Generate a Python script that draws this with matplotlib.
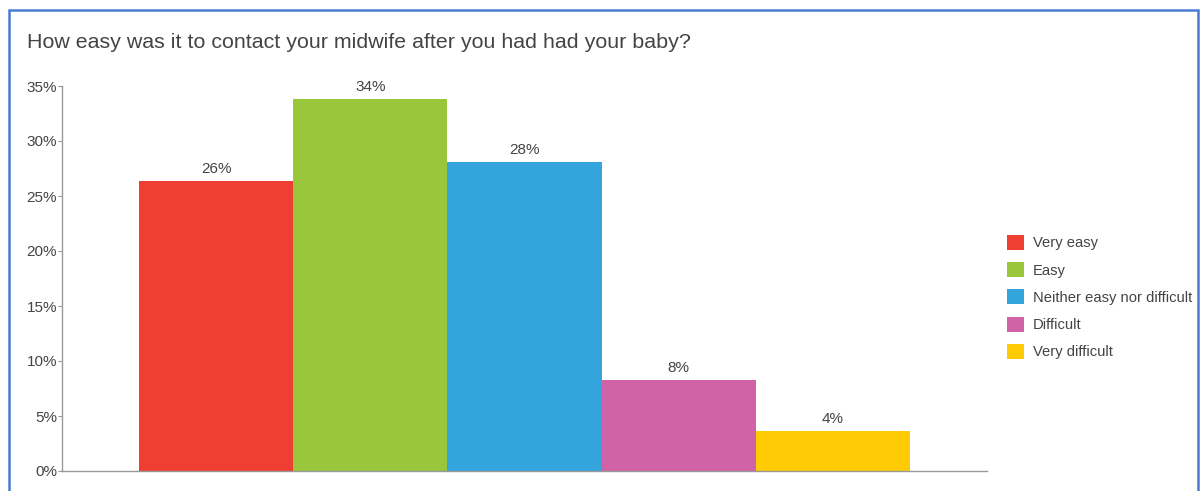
import matplotlib
matplotlib.use("Agg")
import matplotlib.pyplot as plt
from matplotlib.patches import Rectangle, Patch
from matplotlib.ticker import FuncFormatter

plt.rcParams["font.family"] = ["Liberation Sans", "DejaVu Sans"]

title = "How easy was it to contact your midwife after you had had your baby?"
categories = ["Very easy", "Easy", "Neither easy nor difficult", "Difficult", "Very difficult"]
values = [26.4, 33.8, 28.1, 8.3, 3.6]
colors = ["#EF3E32", "#99C63B", "#34A4DD", "#D063A6", "#FFCB05"]
yticks = [0, 5, 10, 15, 20, 25, 30, 35]

W, H = 1203, 491
fig = plt.figure(figsize=(W / 100, H / 100), dpi=100)

# blue frame around the chart (bottom edge falls off the image)
fig.patches.append(Rectangle((8.5 / W, -0.05), (1198 - 8.5) / W, 1.05 - 10.5 / H,
                             transform=fig.transFigure, fill=False,
                             edgecolor="#4A7CD0", linewidth=1.8))

ax = fig.add_axes([62 / W, 20 / H, (987 - 62) / W, (471 - 86) / H])
x = list(range(len(values)))
bars = ax.bar(x, values, width=1.0, color=colors, linewidth=0)
for rect, v in zip(bars, values):
    ax.text(rect.get_x() + rect.get_width() / 2, v + 0.45, f"{round(v)}%",
            ha="center", va="bottom", fontsize=11, color="#444444")

ax.set_xlim(-1.0, 5.0)
ax.set_ylim(0, 35)
ax.set_yticks(yticks)
ax.yaxis.set_major_formatter(FuncFormatter(lambda v, _: f"{v:.0f}%"))
ax.set_xticks([])
ax.tick_params(axis="y", length=3, width=0.8, color="#999999", labelsize=11,
               labelcolor="#444444", pad=0.5)
for side in ["top", "right"]:
    ax.spines[side].set_visible(False)
for side in ["left", "bottom"]:
    ax.spines[side].set_color("#999999")
    ax.spines[side].set_linewidth(1.0)

fig.text(27 / W, 1 - 43 / H, title, ha="left", va="center", fontsize=15.4, color="#444444")

handles = [Patch(facecolor=c, edgecolor="none") for c in colors]
fig.legend(handles, categories, loc="upper left", bbox_to_anchor=(995 / W, 1 - 223 / H),
           frameon=False, fontsize=10.6, labelcolor="#444444",
           handlelength=1.2, handleheight=1.2, handletextpad=0.55,
           labelspacing=0.8, borderpad=0.3)

fig.savefig("out.png", dpi=100)
